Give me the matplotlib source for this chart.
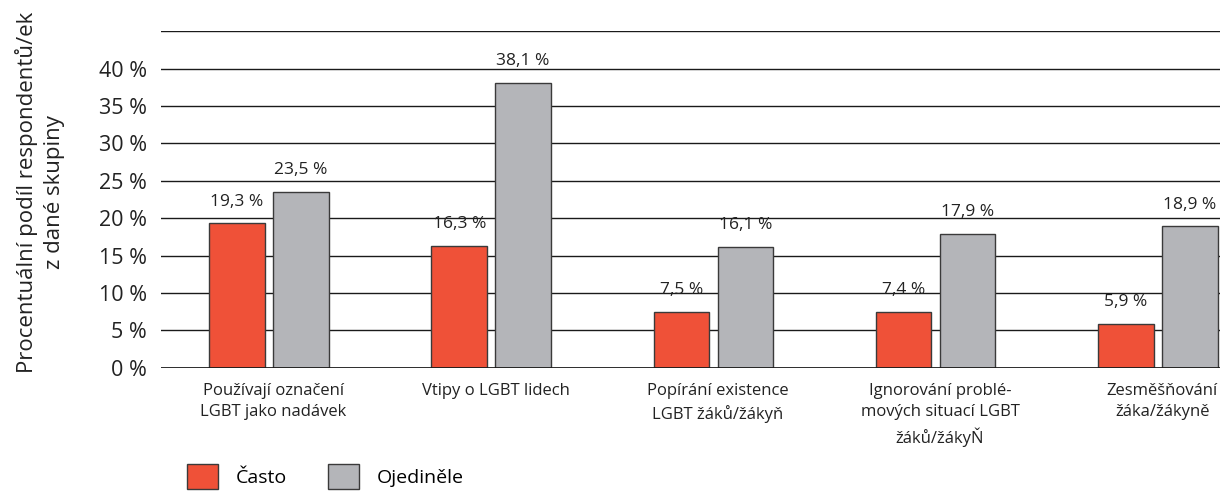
import numpy as np
import matplotlib.pyplot as plt
from matplotlib.patches import Patch

plt.rcParams['font.family'] = ['Open Sans', 'DejaVu Sans']

# data
categories = ["Používají označení\nLGBT jako nadávek",
              "Vtipy o LGBT lidech",
              "Popírání existence\nLGBT žáků/žákyň",
              "Ignorování problé-\nmových situací LGBT\nžáků/žákyŇ",
              "Zesměšňování\nžáka/žákyně"]
casto = [19.3, 16.3, 7.5, 7.4, 5.9]
ojedinele = [23.5, 38.1, 16.1, 17.9, 18.9]
yticks = [0, 5, 10, 15, 20, 25, 30, 35, 40]

red = '#EF5138'
gray = '#B4B5B9'
edge = '#3a3a3a'
txt = '#222222'

fig = plt.figure(figsize=(12.29, 4.94), dpi=100)
ax = fig.add_axes([161 / 1229, 1 - 367.7 / 494, (1220 - 161) / 1229, (367.7 - 31.3) / 494])

x = np.arange(len(categories))
w = 0.25
off = 0.144

# gridlines incl. the top 45 % line
for v in yticks[1:] + [45]:
    ax.axhline(v, color='#1a1a1a', lw=1.0, zorder=1)
ax.axhline(0, color='#1a1a1a', lw=2.0, zorder=3)

b1 = ax.bar(x - off, casto, w, color=red, edgecolor=edge, linewidth=1.0, zorder=2)
b2 = ax.bar(x + off, ojedinele, w, color=gray, edgecolor=edge, linewidth=1.0, zorder=2)

for bars, vals in ((b1, casto), (b2, ojedinele)):
    for r, v in zip(bars, vals):
        ax.annotate(f"{v:.1f} %".replace('.', ','),
                    (r.get_x() + r.get_width() / 2, v),
                    xytext=(0, 10), textcoords='offset points',
                    ha='center', va='bottom', fontsize=12.5, color=txt)

ax.set_xlim(-0.486, 4.28)
ax.set_ylim(0, 45)
ax.set_yticks(yticks)
ax.set_yticklabels([f"{t} %" for t in yticks], fontsize=15.5, color=txt)
ax.tick_params(axis='y', length=0, pad=10)
ax.set_xticks(x + 0.02)
ax.set_xticklabels(categories, fontsize=12, color=txt, linespacing=1.45)
ax.tick_params(axis='x', length=0, pad=11)
for s in ax.spines.values():
    s.set_visible(False)

fig.text(40 / 1229, 1 - 192 / 494, "Procentuální podíl respondentů/ek\nz dané skupiny",
         rotation=90, ha='center', va='center', fontsize=16, color=txt,
         linespacing=1.4)

handles = [Patch(facecolor=red, edgecolor=edge, label='Často'),
           Patch(facecolor=gray, edgecolor=edge, label='Ojediněle')]
fig.legend(handles=handles, loc='upper left', bbox_to_anchor=(187 / 1229, 1 - 464 / 494),
           ncol=2, frameon=False, fontsize=14, handlelength=1.6, handleheight=1.6,
           handletextpad=0.9, columnspacing=2.1, borderaxespad=0, borderpad=0)

fig.savefig('out.png', dpi=100)
